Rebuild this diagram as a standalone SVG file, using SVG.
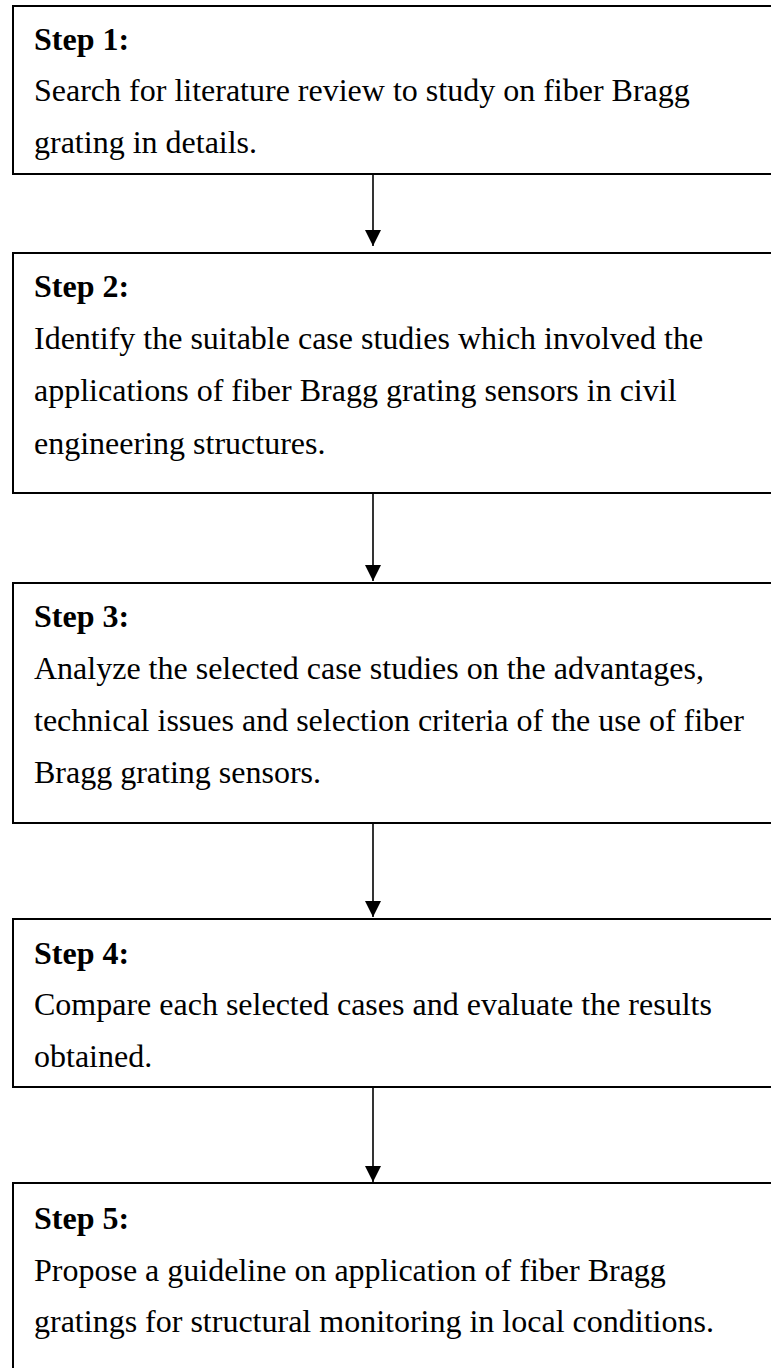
<svg xmlns="http://www.w3.org/2000/svg" width="771" height="1368" viewBox="0 0 771 1368">
<style>
.box{fill:#fff;stroke:#000;stroke-width:2}
.h{font-family:"Liberation Serif","Times New Roman",serif;font-size:32px;font-weight:bold;fill:#000}
.t{font-family:"Liberation Serif","Times New Roman",serif;font-size:32px;fill:#000}
.c{stroke:#000;stroke-width:1.6;fill:none}
</style>
<defs>
<marker id="ah" markerUnits="userSpaceOnUse" markerWidth="16" markerHeight="16" viewBox="0 0 16 16" refX="16" refY="8" orient="auto">
<path d="M0,0 L16,8 L0,16 Z" fill="#000"/>
</marker>
</defs>
<rect width="771" height="1368" fill="#fff"/>
<g id="connectors">
<line class="c" x1="373" y1="174" x2="373" y2="246" marker-end="url(#ah)"/>
<line class="c" x1="373" y1="493" x2="373" y2="581" marker-end="url(#ah)"/>
<line class="c" x1="373" y1="823" x2="373" y2="917" marker-end="url(#ah)"/>
<line class="c" x1="373" y1="1087" x2="373" y2="1182" marker-end="url(#ah)"/>
</g>
<g id="step1">
<rect class="box" x="13" y="6" width="800" height="168"/>
<text class="h" x="34" y="50">Step 1:</text>
<text class="t" x="34" y="101">Search for literature review to study on fiber Bragg</text>
<text class="t" x="34" y="153">grating in details.</text>
</g>
<g id="step2">
<rect class="box" x="13" y="253" width="800" height="240"/>
<text class="h" x="34" y="297">Step 2:</text>
<text class="t" x="34" y="349">Identify the suitable case studies which involved the</text>
<text class="t" x="34" y="401">applications of fiber Bragg grating sensors in civil</text>
<text class="t" x="34" y="454">engineering structures.</text>
</g>
<g id="step3">
<rect class="box" x="13" y="583" width="800" height="240"/>
<text class="h" x="34" y="627">Step 3:</text>
<text class="t" x="34" y="679">Analyze the selected case studies on the advantages,</text>
<text class="t" x="34" y="731">technical issues and selection criteria of the use of fiber</text>
<text class="t" x="34" y="783">Bragg grating sensors.</text>
</g>
<g id="step4">
<rect class="box" x="13" y="919" width="800" height="168"/>
<text class="h" x="34" y="964">Step 4:</text>
<text class="t" x="34" y="1015">Compare each selected cases and evaluate the results</text>
<text class="t" x="34" y="1067">obtained.</text>
</g>
<g id="step5">
<rect class="box" x="13" y="1183" width="800" height="220"/>
<text class="h" x="34" y="1229">Step 5:</text>
<text class="t" x="34" y="1281">Propose a guideline on application of fiber Bragg</text>
<text class="t" x="34" y="1332">gratings for structural monitoring in local conditions.</text>
</g>
</svg>
